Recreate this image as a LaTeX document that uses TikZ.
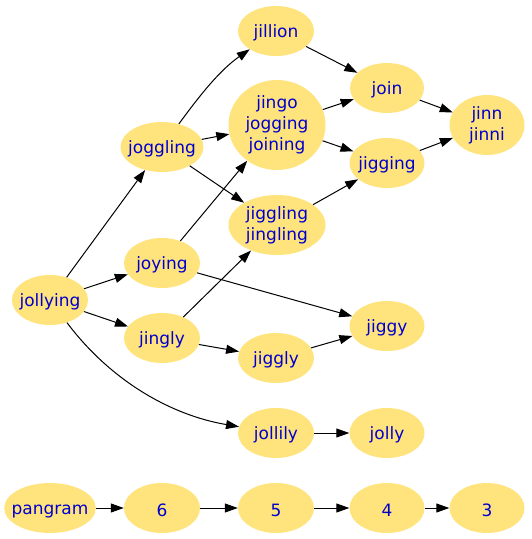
\documentclass[tikz,border=0pt]{standalone}
\usepackage{fontspec}
\setmainfont{DejaVu Sans}
\usetikzlibrary{arrows.meta,shapes.geometric}
\definecolor{wordfill}{RGB}{255,227,125}
\definecolor{wordtext}{RGB}{0,0,205}

\begin{document}
\begin{tikzpicture}[
    x=1pt, y=-1pt,
    word/.style={ellipse, fill=wordfill, text=wordtext, align=center, inner sep=-6pt, minimum width=76pt, minimum height=50pt, font=\fontsize{17}{21}\selectfont, execute at begin node={\rule{0pt}{17.5pt}}},
    arrow/.style={-{Triangle[length=13pt, width=9pt]}, line width=1pt}
  ]
    \useasboundingbox (0,0) rectangle (531,539);

    \node[word] (jillion) at (276,31) {jillion};
    \node[word, minimum width=74pt] (join) at (387,88) {join};
    \node[word, minimum width=75pt, minimum height=60pt] (jinn) at (487,125) {jinn\\jinni};
    \node[word, minimum width=97pt, minimum height=90pt] (jingo) at (277,125) {jingo\\jogging\\joining};
    \node[word, minimum width=83pt] (joggling) at (162,147) {joggling};
    \node[word, minimum width=75pt] (jigging) at (387,163) {jigging};
    \node[word, minimum width=97pt, minimum height=60pt] (jiggling) at (277,225) {jiggling\\jingling};
    \node[word] (joying) at (162,263) {joying};
    \node[word] (jollying) at (50,300) {jollying};
    \node[word, minimum width=75pt] (jiggy) at (387,326) {jiggy};
    \node[word] (jingly) at (162,338) {jingly};
    \node[word] (jiggly) at (276,358) {jiggly};
    \node[word] (jollily) at (276,433) {jollily};
    \node[word, minimum width=75pt] (jolly) at (387,433) {jolly};

    \node[word, minimum width=91pt] (pangram) at (50,508) {pangram};
    \node[word] (six) at (162,508) {6};
    \node[word] (five) at (276,508) {5};
    \node[word, minimum width=75pt] (four) at (387,508) {4};
    \node[word, minimum width=75pt] (three) at (487,508) {3};

    \draw[arrow] (jollying) -- (joggling);
    \draw[arrow] (jollying) -- (joying);
    \draw[arrow] (jollying) -- (jingly);
    \draw[arrow] (jollying) .. controls (110,380) and (170,415) .. (jollily);
    \draw[arrow] (joggling) .. controls (200,95) and (220,70) .. (jillion);
    \draw[arrow] (joggling) -- (jingo);
    \draw[arrow] (joggling) -- (jiggling);
    \draw[arrow] (joying) -- (jingo);
    \draw[arrow] (joying) -- (jiggy);
    \draw[arrow] (jingly) -- (jiggling);
    \draw[arrow] (jingly) -- (jiggly);
    \draw[arrow] (jillion) -- (join);
    \draw[arrow] (jingo) -- (join);
    \draw[arrow] (jingo) -- (jigging);
    \draw[arrow] (jiggling) -- (jigging);
    \draw[arrow] (join) -- (jinn);
    \draw[arrow] (jigging) -- (jinn);
    \draw[arrow] (jiggly) -- (jiggy);
    \draw[arrow] (jollily) -- (jolly);

    \draw[arrow] (pangram) -- (six);
    \draw[arrow] (six) -- (five);
    \draw[arrow] (five) -- (four);
    \draw[arrow] (four) -- (three);
  \end{tikzpicture}
\end{document}
